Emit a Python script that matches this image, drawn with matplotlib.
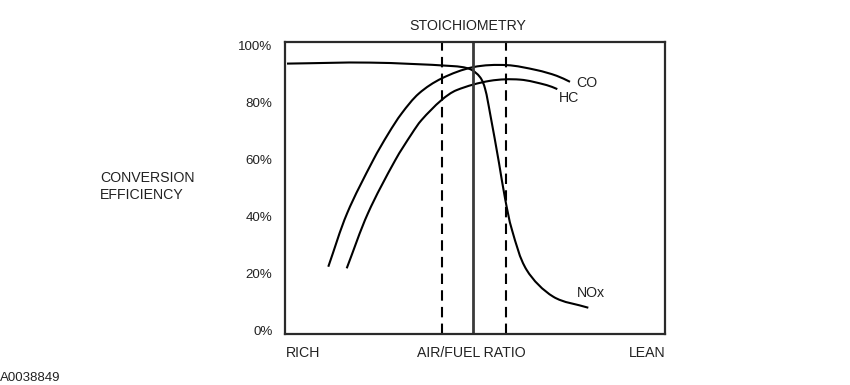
import matplotlib
matplotlib.use("Agg")
import matplotlib.pyplot as plt
import numpy as np
from matplotlib.path import Path
from matplotlib.patches import PathPatch
from matplotlib.ticker import FixedLocator, FuncFormatter

plt.rcParams['font.family'] = ['Liberation Sans', 'DejaVu Sans']

# Data (x in 0..100 across the air/fuel axis, y in %)
nox_x = [0.53, 22.37, 44.21, 48.68, 51.32, 52.63, 53.95, 56.32, 57.89, 59.74, 63.61, 70.61, 79.82]
nox_y = [93.51, 93.86, 92.63, 91.58, 88.77, 84.81, 76.14, 58.60, 46.32, 35.09, 21.05, 11.68, 7.82]

co_x = [11.39, 16.34, 23.21, 27.24, 30.71, 35.26, 41.24, 49.55, 58.34, 66.24, 71.50, 75.00]
co_y = [22.21, 40.95, 59.65, 69.02, 76.04, 83.05, 88.32, 92.28, 92.98, 91.23, 89.23, 87.12]

hc_x = [16.24, 21.82, 29.03, 33.42, 35.92, 41.18, 45.18, 53.95, 61.84, 68.87, 71.66]
hc_y = [21.65, 40.95, 59.65, 69.02, 73.68, 80.70, 84.21, 87.47, 87.89, 85.96, 84.56]

y_ticks = [0, 20, 40, 60, 80, 100]
stoich_x = 49.6
window_x = [41.2, 58.2]

ASPECT = np.array([3.8, 2.85])  # approx. pixels per data unit (x, y)


def smooth_path(xs, ys):
    """Chord-length parameterised Catmull-Rom curve through the points (cubic Beziers)."""
    p = np.column_stack([xs, ys]).astype(float)
    n = len(p)
    d = np.linalg.norm(np.diff(p, axis=0) * ASPECT, axis=1)
    t = np.concatenate([[0], np.cumsum(d)])
    m = np.zeros_like(p)
    m[0] = (p[1] - p[0]) / d[0]
    m[-1] = (p[-1] - p[-2]) / d[-1]
    for i in range(1, n - 1):
        m[i] = (p[i + 1] - p[i - 1]) / (t[i + 1] - t[i - 1])
    verts = [p[0]]
    codes = [Path.MOVETO]
    for i in range(n - 1):
        c1 = p[i] + m[i] * d[i] / 3.0
        c2 = p[i + 1] - m[i + 1] * d[i] / 3.0
        verts += [c1, c2, p[i + 1]]
        codes += [Path.CURVE4] * 3
    return Path(verts, codes)


fig = plt.figure(figsize=(8.5, 3.85), dpi=100)
ax = fig.add_axes([285/850, 1-334/385, 380/850, (334-41.7)/385])
ax.set_xlim(0, 100)
ax.set_ylim(-1.4, 101.2)

lw = 1.5
for xs, ys in [(nox_x, nox_y), (co_x, co_y), (hc_x, hc_y)]:
    ax.add_patch(PathPatch(smooth_path(xs, ys), facecolor='none', edgecolor='black',
                           lw=lw, capstyle='butt', joinstyle='round'))

ax.axvline(stoich_x, color='#3a3a3a', lw=2.0)
for xv in window_x:
    ax.axvline(xv, color='black', lw=1.5, ls=(0, (5, 3)))

for s in ax.spines.values():
    s.set_linewidth(1.6)
    s.set_color('#2a2a2a')

ax.xaxis.set_major_locator(FixedLocator([]))
ax.yaxis.set_major_locator(FixedLocator(y_ticks))
ax.yaxis.set_major_formatter(FuncFormatter(lambda v, p: f"{int(v)}%"))
ax.tick_params(axis='y', length=0, pad=9, labelsize=9.6, labelcolor='#222222')

tc = '#222222'
fs = 10.2
ax.text((576.7-285)/3.8, (330-83.3)/2.85, 'CO', fontsize=fs, color=tc, va='center', ha='left')
ax.text((559.3-285)/3.8, (330-97.7)/2.85, 'HC', fontsize=fs, color=tc, va='center', ha='left')
ax.text((576.7-285)/3.8, (330-293.3)/2.85, 'NOx', fontsize=fs, color=tc, va='center', ha='left')

fig.text(468/850, 1-26/385, 'STOICHIOMETRY', fontsize=fs, color=tc, ha='center', va='center')
fig.text(286/850, 1-353/385, 'RICH', fontsize=fs, color=tc, ha='left', va='center')
fig.text(471.5/850, 1-353/385, 'AIR/FUEL RATIO', fontsize=fs, color=tc, ha='center', va='center')
fig.text(665/850, 1-353/385, 'LEAN', fontsize=fs, color=tc, ha='right', va='center')
fig.text(100/850, 1-178/385, 'CONVERSION', fontsize=fs, color=tc, ha='left', va='center')
fig.text(100/850, 1-195/385, 'EFFICIENCY', fontsize=fs, color=tc, ha='left', va='center')
fig.text(0/850, 1-378/385, 'A0038849', fontsize=9.5, color=tc, ha='left', va='center')

fig.savefig('out.png', dpi=100)
